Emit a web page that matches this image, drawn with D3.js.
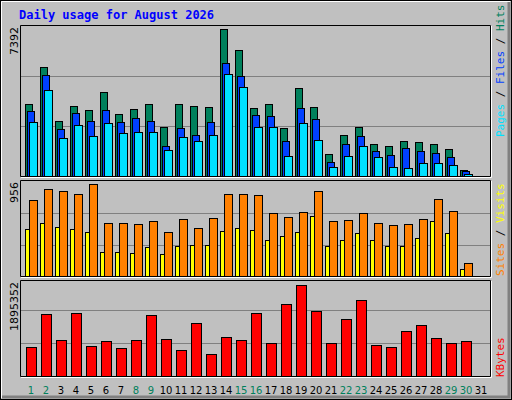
<!DOCTYPE html>
<html><head><meta charset="utf-8">
<script src="https://cdn.jsdelivr.net/npm/d3@7"></script>
<style>body{margin:0;background:#fff}svg{display:block}</style>
</head><body><div id="chart"></div>
<script>
var days   = d3.range(1, 32);
var weekend = [1, 2, 8, 9, 15, 16, 22, 23, 29, 30];
var hits  = [3533,5357,2696,3435,3238,4125,3041,3287,3533,2400,3533,3435,3386,7229,6195,3336,3533,2351,4322,3386,1069,2006,2400,1562,1464,1710,1661,1562,1316,281,0];
var files = [3188,4962,2301,3090,2696,3238,2646,2843,2696,1464,2351,2006,2646,5554,4913,2991,2942,1710,3336,2794,675,1562,1956,1217,1020,1365,1217,1148,922,232,0];
var pages = [2646,4238,1858,2498,1956,2597,2104,2154,2154,1266,1907,1710,2006,5012,4371,2400,2400,971,2597,1759,429,971,1464,922,429,379,626,626,527,84,0];
var sites  = [476,536,496,476,445,243,243,233,293,223,304,314,314,455,486,465,364,405,445,607,304,364,435,364,304,304,385,557,435,71,0];
var visits = [769,880,860,830,931,536,536,526,557,445,577,486,587,830,830,820,637,597,648,860,557,567,637,536,516,526,577,779,658,132,0];
var kbytes = [561600,1193400,695600,1212600,580800,676500,542500,695600,1174300,714800,504200,1021100,427600,753100,695600,1212600,638200,1384900,1748700,1250900,638200,1097700,1461500,599900,561600,868000,982800,733900,638200,676500,0];
var maxHits = 7392, maxVisits = 956, maxKB = 1895352;

var W = 512, H = 400;
var svg = d3.select('#chart').append('svg').attr('width', W).attr('height', H)
    .style('font-family', '"DejaVu Sans Mono", monospace');

// frame
svg.append('rect').attr('width', W).attr('height', H).attr('fill', '#c0c0c0');
svg.append('rect').attr('x', 0.5).attr('y', 0.5).attr('width', W - 1).attr('height', H - 1)
    .attr('fill', 'none').attr('stroke', '#000');
svg.append('path').attr('d', 'M1.5,' + (H - 2) + 'V1.5H' + (W - 2)).attr('stroke', '#fff').attr('fill', 'none');
svg.append('path').attr('d', 'M' + (W - 3) + ',2V' + (H - 3) + 'H2').attr('stroke', '#808080').attr('stroke-width', 3).attr('fill', 'none');

svg.append('text').attr('x', 19).attr('y', 19).attr('fill', '#0000ff')
    .style('font-size', '12px').style('font-weight', 'bold').text('Daily usage for August 2026');

var x = d3.scaleLinear().domain([1, 31]).range([25, 475]);

var panels = [
  {top: 25, bottom: 176, y: d3.scaleLinear().domain([0, maxHits]).range([176, 26]), max: maxHits},
  {top: 180, bottom: 276, y: d3.scaleLinear().domain([0, maxVisits]).range([276, 182]), max: maxVisits},
  {top: 280, bottom: 376, y: d3.scaleLinear().domain([0, maxKB]).range([376, 277]), max: maxKB}
];

panels.forEach(function(p) {
  svg.append('path').attr('d', 'M20.5,' + (p.bottom + 0.5) + 'V' + (p.top + 0.5) + 'H490.5V' + (p.bottom + 0.5) + 'Z')
      .attr('fill', '#c0c0c0').attr('stroke', '#000');
  svg.append('path').attr('d', 'M21,' + (p.bottom + 1.5) + 'H491.5V' + (p.top + 1))
      .attr('fill', 'none').attr('stroke', '#fff');
  [1 / 3, 2 / 3].forEach(function(f) {
    var gy = Math.round(p.y(p.max * f)) + 0.5;
    svg.append('line').attr('x1', 21).attr('x2', 490).attr('y1', gy).attr('y2', gy)
        .attr('stroke', '#808080').attr('stroke-width', 1);
  });
  svg.append('text').attr('transform', 'translate(18,' + (p.top + 2) + ') rotate(-90)')
      .attr('text-anchor', 'end').style('font-family', '"DejaVu Sans", sans-serif')
      .style('font-size', '11px').attr('fill', '#000').text(p.max);
});

function bars(data, panel, dx, w, color) {
  svg.append('g').selectAll('rect').data(data).enter()
    .filter(function(d) { return d > 0; })
    .append('rect')
      .attr('x', function(d, i) { return x(days[data.indexOf(d) >= 0 ? i : i]) + dx + 0.5; })
      .attr('y', function(d) { return Math.round(panel.y(d)) + 0.5; })
      .attr('width', w)
      .attr('height', function(d) { return panel.bottom - Math.round(panel.y(d)); })
      .attr('fill', color).attr('stroke', '#000');
}
// enter().filter keeps original indices via data order
function barsIdx(data, panel, dx, w, color) {
  var g = svg.append('g');
  data.forEach(function(d, i) {
    if (d <= 0) return;
    var top = Math.round(panel.y(d));
    g.append('rect').attr('x', x(days[i]) + dx + 0.5).attr('y', top + 0.5)
      .attr('width', w).attr('height', panel.bottom - top)
      .attr('fill', color).attr('stroke', '#000');
  });
}
barsIdx(hits, panels[0], 0, 7, '#00805c');
barsIdx(files, panels[0], 2, 7, '#0040ff');
barsIdx(pages, panels[0], 4, 8, '#00e0ff');
barsIdx(sites, panels[1], 0, 4, '#ffff00');
barsIdx(visits, panels[1], 4, 8, '#ff8000');
barsIdx(kbytes, panels[2], 1, 10, '#ff0000');

// right legends
function legend(parts, bottom) {
  var t = svg.append('text').attr('transform', 'translate(504,' + bottom + ') rotate(-90)')
      .style('font-size', '11px');
  parts.forEach(function(p) { t.append('tspan').attr('fill', p[1]).text(p[0]); });
}
legend([['Pages', '#00e0ff'], [' / ', '#000'], ['Files', '#0040ff'], [' / ', '#000'], ['Hits', '#00805c']], 137);
legend([['Sites', '#ff8000'], [' / ', '#000'], ['Visits', '#ffff00']], 276);
legend([['KBytes', '#ff0000']], 377);

svg.append('g').selectAll('text').data(days).enter().append('text')
    .attr('x', function(d) { return x(d) + 6; }).attr('y', 394)
    .attr('text-anchor', 'middle').style('font-family', '"DejaVu Sans", sans-serif').style('font-size', '10px')
    .attr('fill', function(d) { return weekend.indexOf(d) >= 0 ? '#00805c' : '#000'; })
    .text(function(d) { return d; });
</script></body></html>
